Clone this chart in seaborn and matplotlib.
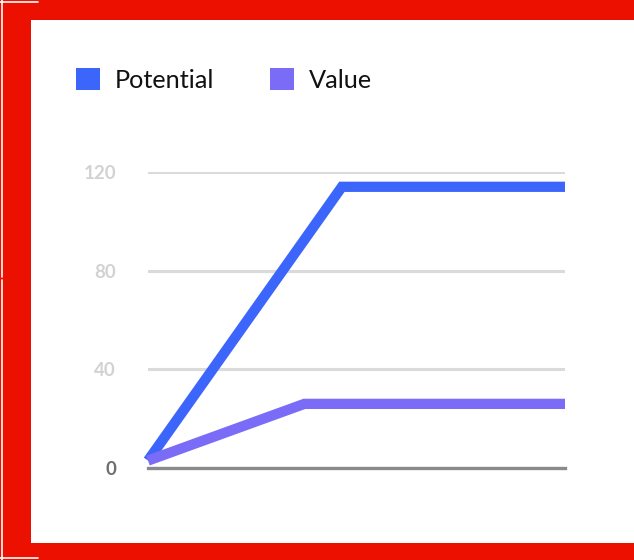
import matplotlib
matplotlib.use("Agg")
import matplotlib.pyplot as plt
from matplotlib.patches import Patch, Rectangle
from matplotlib.lines import Line2D
import seaborn as sns
import pandas as pd

# Series data
series_names = ["Potential", "Value"]
potential_x = [0, 46.5, 100]
potential_y = [3, 114, 114]
value_x = [0, 37.5, 100]
value_y = [3, 26, 26]
y_ticks = [0, 40, 80, 120]
series_colors = {"Potential": "#3c66fb", "Value": "#7b6cf7"}

frame_red = "#eb1000"

df = pd.concat([
    pd.DataFrame({"series": "Potential", "x": potential_x, "y": potential_y}),
    pd.DataFrame({"series": "Value", "x": value_x, "y": value_y}),
], ignore_index=True)

sns.set_theme(style="white")
plt.rcParams["font.family"] = ["Lato", "DejaVu Sans"]

W, H = 634, 560
fig = plt.figure(figsize=(W / 100, H / 100), dpi=100)
fig.patch.set_facecolor(frame_red)


def fx(px):
    return px / W


def fy(py):
    return 1 - py / H


# white panel inside the red frame
fig.add_artist(Rectangle((fx(31), fy(543)), fx(634 - 31), (543 - 20) / H,
                         transform=fig.transFigure, facecolor="white",
                         edgecolor="none", zorder=0))
# thin white frame accents
for xs, ys in [([2, 2], [0, 277]), ([2, 2], [280, 560]),
               ([0, 38], [2, 2]), ([0, 38], [558, 558])]:
    fig.add_artist(Line2D([fx(v) for v in xs], [fy(v) for v in ys],
                          transform=fig.transFigure, color="white",
                          linewidth=1.2, zorder=1))

ax = fig.add_axes([fx(148), fy(468), fx(565 - 148), (468 - 172) / H])
ax.set_facecolor("none")

sns.lineplot(data=df, x="x", y="y", hue="series", palette=series_colors,
             hue_order=series_names, linewidth=7.4, ax=ax, legend=False,
             sort=False, estimator=None)
for ln in ax.lines:
    ln.set_clip_on(False)
    ln.set_solid_joinstyle("miter")
    ln.set_solid_capstyle("butt")
    ln.set_zorder(3)

ax.set_xlim(0, 100)
ax.set_ylim(0, 120)
ax.set_xticks([])
ax.set_yticks(y_ticks)
ax.set_yticklabels([str(t) for t in y_ticks])
ax.set_xlabel("")
ax.set_ylabel("")
ax.tick_params(axis="y", length=0, pad=23, labelsize=13.5)
for lbl, t in zip(ax.get_yticklabels(), y_ticks):
    lbl.set_color("#6e6e6e" if t == 0 else "#d2d2d2")
    lbl.set_fontweight("bold")

ax.yaxis.grid(True, color="#dadada", linewidth=2.2)
ax.set_axisbelow(True)
for side in ["top", "right", "left"]:
    ax.spines[side].set_visible(False)
ax.spines["bottom"].set_color("#8a8a8a")
ax.spines["bottom"].set_linewidth(2.4)
ax.spines["bottom"].set_zorder(2.5)

handles = [Patch(facecolor=series_colors[n], edgecolor="none", label=n)
           for n in series_names]
leg = fig.legend(handles=handles, loc="center left",
                 bbox_to_anchor=(fx(76), fy(80)), ncol=2, frameon=False,
                 fontsize=18.2, handlelength=0.96, handleheight=0.96,
                 handletextpad=0.58, columnspacing=2.2, borderpad=0,
                 borderaxespad=0)
for txt in leg.get_texts():
    txt.set_color("#111111")

fig.savefig("out.png", dpi=100, facecolor=fig.get_facecolor())
